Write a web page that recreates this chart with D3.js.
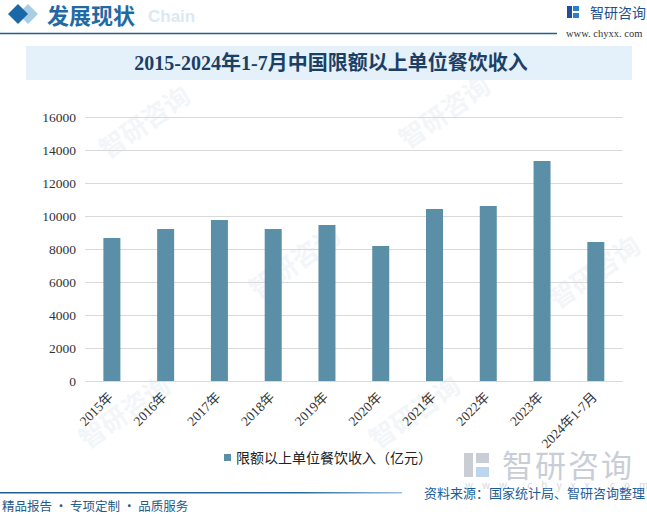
<!DOCTYPE html>
<html><head><meta charset="utf-8">
<script src="https://cdn.jsdelivr.net/npm/d3@7/dist/d3.min.js"></script>
<style>body{margin:0;background:#fff}svg{display:block}</style>
</head><body>
<svg id="c" width="647" height="515"></svg>
<script>
const categories = ["2015年","2016年","2017年","2018年","2019年","2020年","2021年","2022年","2023年","2024年1-7月"];
const values = [8676, 9222, 9768, 9222, 9465, 8191, 10436, 10618, 13348, 8434];
const yTicks = [0,2000,4000,6000,8000,10000,12000,14000,16000];
const seriesName = "限额以上单位餐饮收入（亿元）";
const chartTitle = "2015-2024年1-7月中国限额以上单位餐饮收入";

const svg = d3.select("#c");
const serif = "'Liberation Serif','Noto Sans CJK SC',serif";
const sans = "'Noto Sans CJK SC','Noto Sans',sans-serif";

// faint watermarks
const wm = svg.append("g").attr("fill","#f3f6f9").attr("font-family",sans).attr("font-weight","bold");
[[150,130],[450,120],[130,420],[420,420],[300,270],[600,280]].forEach(([x,y])=>{
  wm.append("text").attr("x",x).attr("y",y).attr("font-size",26)
    .attr("transform",`rotate(-35,${x},${y})`).attr("text-anchor","middle").text("智研咨询");
});

// header
svg.append("path").attr("d","M28,4 L38,14 L28,24 L18,14 Z").attr("fill","#a8cde5");
svg.append("path").attr("d","M18,4 L28,14 L18,24 L8,14 Z").attr("fill","#1a69a6");
svg.append("text").attr("x",148).attr("y",22).attr("font-family","'Liberation Sans',Arial,sans-serif")
  .attr("font-weight","bold").attr("font-size",17).attr("fill","#dbe9f5").text("Chain");
svg.append("text").attr("x",47).attr("y",24).attr("font-family",sans).attr("font-weight","bold")
  .attr("font-size",22).attr("fill","#1f6aa5").text("发展现状");
svg.append("line").attr("x1",0).attr("x2",557).attr("y1",33.5).attr("y2",33.5).attr("stroke","#1f5f8f").attr("stroke-width",1.5);

// logo top right
const lg = svg.append("g");
lg.append("rect").attr("x",567).attr("y",6).attr("width",5).attr("height",12).attr("fill","#1f4f9f");
lg.append("rect").attr("x",573).attr("y",6).attr("width",6).attr("height",5).attr("fill","#2f7fd0");
lg.append("rect").attr("x",573).attr("y",13).attr("width",6).attr("height",5).attr("fill","#2f7fd0");
lg.append("text").attr("x",590).attr("y",18).attr("font-family",sans).attr("font-size",14).attr("fill","#1f4f8f").text("智研咨询");
lg.append("text").attr("x",566).attr("y",37).attr("font-family",serif).attr("font-size",10.5).attr("fill","#333").text("www. chyxx. com");

// title box
svg.append("rect").attr("x",26).attr("y",46).attr("width",606).attr("height",34).attr("fill","#e4f1fa");
svg.append("text").attr("x",331).attr("y",70).attr("text-anchor","middle").attr("font-family",serif)
  .attr("font-weight","bold").attr("font-size",20).attr("fill","#1c3f66").text(chartTitle);

// scales
const x = d3.scaleBand().domain(categories).range([85,622.7]).paddingInner(0.684).paddingOuter(0.342);
const y = d3.scaleLinear().domain([0,16000]).range([381,117.3]);

// gridlines
svg.append("g").selectAll("line").data(yTicks).join("line")
  .attr("x1",85).attr("x2",622.7).attr("y1",d=>Math.round(y(d))+0.5).attr("y2",d=>Math.round(y(d))+0.5)
  .attr("stroke","#d9d9d9").attr("stroke-width",1);

// y axis
const ya = svg.append("g").attr("transform","translate(85,0)")
  .call(d3.axisLeft(y).tickValues(yTicks).tickSize(0).tickPadding(9).tickFormat(d3.format("d")));
ya.select(".domain").remove();
ya.selectAll("text").attr("font-family",serif).attr("font-size",13.5).attr("fill","#333");

// bars
svg.append("g").selectAll("rect").data(values).join("rect")
  .attr("x",(d,i)=>x(categories[i])).attr("width",x.bandwidth())
  .attr("y",d=>y(d)).attr("height",d=>y(0)-y(d)).attr("fill","#5b8fa8");

// x axis
const xa = svg.append("g").attr("transform","translate(0,381)")
  .call(d3.axisBottom(x).tickSize(0).tickPadding(0));
xa.select(".domain").remove();
xa.selectAll("text").attr("font-family",serif).attr("font-size",13.5).attr("fill","#333")
  .attr("text-anchor","end").attr("dy",0)
  .attr("transform","translate(2,17) rotate(-45)");

// legend
svg.append("rect").attr("x",224).attr("y",454).attr("width",7).attr("height",7).attr("fill","#5b8fa8");
svg.append("text").attr("x",236).attr("y",463).attr("font-family",sans).attr("font-size",14).attr("fill","#222").text(seriesName);

// watermark logo bottom right
const wl = svg.append("g").attr("fill","#c9ced6");
wl.append("rect").attr("x",464).attr("y",453).attr("width",9).attr("height",24);
wl.append("rect").attr("x",476).attr("y",453).attr("width",13).attr("height",10);
wl.append("rect").attr("x",476).attr("y",467).attr("width",13).attr("height",10).attr("fill","#bcd6ee");
wl.append("text").attr("x",502).attr("y",477).attr("font-family",sans).attr("font-size",31).attr("letter-spacing",2).text("智研咨询");
wl.append("text").attr("x",465).attr("y",489).attr("font-family",sans).attr("font-size",10).attr("letter-spacing",9).attr("fill","#d5d9df").text("www.chyxx.com");

// bottom line
const grad = svg.append("defs").append("linearGradient").attr("id","bl");
grad.append("stop").attr("offset","0").attr("stop-color","#1f5f8f");
grad.append("stop").attr("offset","0.75").attr("stop-color","#2a6c9c");
grad.append("stop").attr("offset","1").attr("stop-color","#9cc0da");
svg.append("rect").attr("x",0).attr("y",492).attr("width",402).attr("height",1.5).attr("fill","url(#bl)");
svg.append("text").attr("x",645).attr("y",498).attr("text-anchor","end").attr("font-family",sans)
  .attr("font-size",13).attr("fill","#1b5c9c").text("资料来源：国家统计局、智研咨询整理");
svg.append("text").attr("x",2).attr("y",511).attr("font-family",sans)
  .attr("font-size",12.5).attr("fill","#1f5a8a").text("精品报告 · 专项定制 · 品质服务");
</script>
</body></html>
